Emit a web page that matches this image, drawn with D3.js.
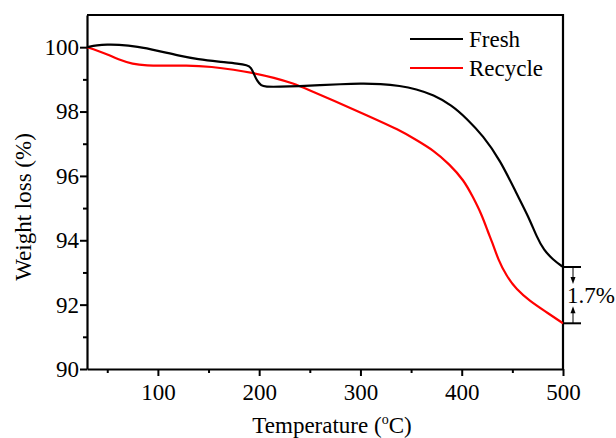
<!DOCTYPE html>
<html><head><meta charset="utf-8">
<script src="https://cdn.jsdelivr.net/npm/d3@7"></script>
<style>body{margin:0;background:#fff}svg{display:block}svg text{font-family:"Liberation Serif","Times New Roman",serif !important}</style>
</head><body><svg id="c" width="616" height="438"></svg>
<script>
const freshT = [30,40,50,60,80,100,120,140,160,180,188,192,195,198,202,206,220,240,260,280,300,320,339,355,372,390,405,421,438,454,466,474,481,490,500];
const freshW = [100.0,100.06,100.08,100.08,100.02,99.89,99.74,99.62,99.55,99.49,99.44,99.38,99.15,98.95,98.80,98.77,98.77,98.79,98.82,98.85,98.87,98.86,98.80,98.70,98.52,98.20,97.78,97.25,96.49,95.46,94.73,94.11,93.70,93.40,93.17];
const recT = [30,40,52,60,75,90,102,128,154,175,194,215,233,248,273,306,339,355,372,388,402,411,420,426,430,436,444,454,467,482,500];
const recW = [100.0,99.9,99.75,99.63,99.47,99.43,99.42,99.44,99.39,99.3,99.2,99.05,98.88,98.69,98.35,97.89,97.42,97.12,96.80,96.36,95.87,95.35,94.78,94.25,93.95,93.40,92.90,92.47,92.12,91.80,91.42];
const xMajor = [100,200,300,400,500];
const xMinor = [50,150,250,350,450];
const yMajor = [90,92,94,96,98,100];
const yMinor = [91,93,95,97,99];
const seriesNames = ["Fresh","Recycle"];
const seriesColors = ["#000000","#ff0000"];
const diffLabel = "1.7%";

const FONT = '"Liberation Serif","Times New Roman",serif';
const svg = d3.select("#c");
const L=87,R=563,T=15,B=369;
const x = d3.scaleLinear().domain([30,500]).range([L,R]);
const y = d3.scaleLinear().domain([90,101]).range([B,T]);
const FS = 23;

// frame
svg.append("path").attr("d",`M${L},${T}H${R}V${B}`).attr("fill","none").attr("stroke","#000").attr("stroke-width",2.2);

function styleAxis(g){
  g.attr("font-family",FONT).attr("font-size",FS);
  g.select(".domain").attr("stroke-width",2.2);
  g.selectAll(".tick line").attr("stroke-width",2);
  g.selectAll("text").style("font-family",FONT).style("font-size",FS+"px").attr("fill","#000");
}
const gxMin = svg.append("g").attr("transform",`translate(0,${B})`).call(d3.axisBottom(x).tickValues(xMinor).tickSize(4).tickFormat(""));
gxMin.select(".domain").remove(); gxMin.selectAll("line").attr("stroke-width",2);
const gx = svg.append("g").attr("transform",`translate(0,${B})`).call(d3.axisBottom(x).tickValues(xMajor).tickSize(7).tickSizeOuter(0).tickPadding(8));
styleAxis(gx);
const gyMin = svg.append("g").attr("transform",`translate(${L},0)`).call(d3.axisLeft(y).tickValues(yMinor).tickSize(4).tickFormat(""));
gyMin.select(".domain").remove(); gyMin.selectAll("line").attr("stroke-width",2);
const gy = svg.append("g").attr("transform",`translate(${L},0)`).call(d3.axisLeft(y).tickValues(yMajor).tickSize(7).tickSizeOuter(0).tickPadding(1));
styleAxis(gy);

// lines
const line = d3.line().x(d=>x(d[0])).y(d=>y(d[1])).curve(d3.curveBasis);
svg.append("path").datum(recT.map((t,i)=>[t,recW[i]])).attr("d",line).attr("fill","none").attr("stroke",seriesColors[1]).attr("stroke-width",2.2);
svg.append("path").datum(freshT.map((t,i)=>[t,freshW[i]])).attr("d",line).attr("fill","none").attr("stroke",seriesColors[0]).attr("stroke-width",2.2);

// legend
seriesNames.forEach((n,i)=>{
  const ly = 39 + i*29;
  svg.append("line").attr("x1",410).attr("x2",463).attr("y1",ly).attr("y2",ly).attr("stroke",seriesColors[i]).attr("stroke-width",2.2);
  svg.append("text").attr("x",469).attr("y",ly+8).style("font-family",FONT).attr("font-size",FS).text(n);
});

// annotation
const fEnd = freshW[freshW.length-1], rEnd = recW[recW.length-1];
const ya = y(fEnd), yb = y(rEnd);
svg.append("line").attr("x1",R).attr("x2",R+18).attr("y1",ya).attr("y2",ya).attr("stroke","#000").attr("stroke-width",2);
svg.append("line").attr("x1",R).attr("x2",R+18).attr("y1",yb).attr("y2",yb).attr("stroke","#000").attr("stroke-width",2);
const ax = R+10;
svg.append("line").attr("x1",ax).attr("x2",ax).attr("y1",ya).attr("y2",ya+12).attr("stroke","#000").attr("stroke-width",1);
svg.append("path").attr("d",`M${ax-2.5},${ya+10}L${ax+2.5},${ya+10}L${ax},${ya+17}Z`).attr("fill","#000");
svg.append("line").attr("x1",ax).attr("x2",ax).attr("y1",yb).attr("y2",yb-12).attr("stroke","#000").attr("stroke-width",1);
svg.append("path").attr("d",`M${ax-2.5},${yb-10}L${ax+2.5},${yb-10}L${ax},${yb-17}Z`).attr("fill","#000");
svg.append("text").attr("x",567).attr("y",(ya+yb)/2+8).style("font-family",FONT).attr("font-size",FS).text(diffLabel);

// axis titles
const xt = svg.append("text").attr("x",332).attr("y",433).attr("text-anchor","middle").style("font-family",FONT).attr("font-size",FS);
xt.append("tspan").text("Temperature (");
xt.append("tspan").attr("font-size",14).attr("dy",-9).text("o");
xt.append("tspan").attr("dy",9).text("C)");
svg.append("text").attr("transform","translate(31,207) rotate(-90)").attr("text-anchor","middle").style("font-family",FONT).attr("font-size",FS).text("Weight loss (%)");
</script></body></html>
